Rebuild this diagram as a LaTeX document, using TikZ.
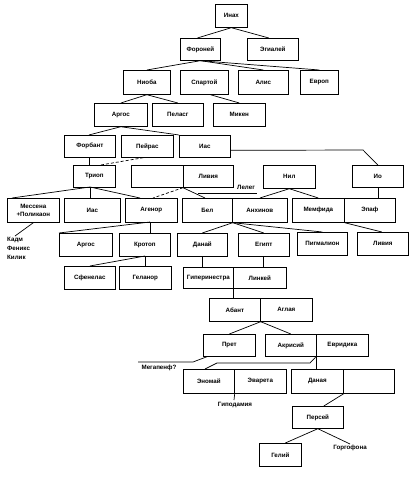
\documentclass[tikz,border=0pt]{standalone}
\usepackage{fontspec}
\setmainfont{Liberation Sans}
\usetikzlibrary{calc}
\newcommand\bx[6]{\node[boxst, minimum width={#4pt-#2pt}, minimum height={#5pt-#3pt}, anchor=north west] (#1) at (#2,#3) {#6};}
\begin{document}
\begin{tikzpicture}[x=1pt,y=-1pt,
  boxst/.style={draw, line width=0.7pt, inner sep=0pt, font=\fontsize{6.2}{8}\selectfont\bfseries, align=center},
  txt/.style={inner sep=0pt, font=\fontsize{6.2}{9}\selectfont\bfseries},
  ln/.style={line width=0.7pt},
  dln/.style={line width=0.7pt, dash pattern=on 3pt off 2pt}]
\fill[white] (0,0) rectangle (414,478);
\useasboundingbox (0,0) rectangle (414,478);
% row 1-3
\bx{inax}{215}{4}{247}{27}{Инах}
\bx{foron}{180}{38}{220}{60}{Фороней}
\bx{egial}{247}{38}{298}{60}{Эгиалей}
\bx{nioba}{123}{70}{170}{94}{Ниоба}
\bx{spart}{180}{70}{228}{94}{Спартой}
\bx{alis}{238}{70}{288}{94}{Алис}
\bx{evrop}{300}{70}{338}{94}{Европ}
% row 4
\bx{argosa}{94}{103}{147}{126}{Аргос}
\bx{pelasg}{152}{103}{203}{126}{Пеласг}
\bx{miken}{213}{103}{265}{126}{Микен}
% row 5
\bx{forb}{64}{135}{115}{157}{Форбант}
\bx{peir}{121}{135}{173}{157}{Пейрас}
\bx{iasa}{179}{135}{230}{157}{Иас}
% row 6
\bx{triop}{73}{165}{115}{187}{Триоп}
\bx{emptya}{131}{165}{183}{187}{}
\bx{liviaa}{183}{165}{233}{187}{Ливия}
\bx{nil}{263}{165}{315}{188}{Нил}
\bx{io}{352}{165}{403}{187}{Ио}
% row 7
\bx{mess}{7}{198}{59}{222}{Мессена\\+Поликаон}
\bx{iasb}{64}{198}{120}{222}{Иас}
\bx{agen}{125}{198}{177}{222}{Агенор}
\bx{bel}{182}{198}{232}{222}{Бел}
\bx{anx}{232}{198}{287}{222}{Анхинов}
\bx{memf}{292}{198}{344}{222}{Мемфида}
\bx{epaf}{344}{198}{395}{222}{Эпаф}
% row 8
\bx{argosb}{59}{233}{112}{256}{Аргос}
\bx{krot}{119}{233}{170}{256}{Кротоп}
\bx{danai}{177}{233}{227}{256}{Данай}
\bx{egipt}{238}{233}{289}{256}{Египт}
\bx{pigm}{297}{232}{347}{255}{Пигмалион}
\bx{liviab}{357}{232}{408}{255}{Ливия}
% row 9
\bx{sfen}{64}{266}{115}{289}{Сфенелас}
\bx{gelan}{119}{266}{171}{289}{Геланор}
\bx{giper}{183}{267}{233}{288}{Гиперинестра}
\bx{linkei}{233}{267}{286}{288}{Линкей}
% row 10-11
\bx{abant}{209}{298}{260}{321}{Абант}
\bx{aglaya}{260}{298}{312}{321}{Аглая}
\bx{pret}{203}{334}{255}{356}{Прет}
\bx{akris}{265}{334}{316}{356}{Акрисий}
\bx{evrid}{316}{334}{368}{356}{Евридика}
% row 12
\bx{enom}{183}{369}{234}{393}{Эномай}
\bx{evar}{234}{369}{286}{393}{Эварета}
\bx{danaya}{291}{369}{343}{393}{Даная}
\bx{emptyb}{343}{369}{394}{393}{}
\bx{persei}{292}{406}{343}{428}{Персей}
\bx{gelii}{259}{443}{301}{466}{Гелий}
% free texts
\node[txt] (leleg) at (246,187) {Лелег};
\node[txt, align=left, anchor=north west] (kadm) at (7,237.5) {Кадм\\Феникс\\Килик};
\node[txt] (megap) at (159,368) {Мегапенф?};
\node[txt] (gipod) at (235,405) {Гиподамия};
\node[txt] (gorg) at (350,448) {Горгофона};
% connectors
\draw[ln] (inax.south) -- ($(foron.north)+(-3,0)$);
\draw[ln] (inax.south) -- ($(egial.north)+(-4,0)$);
\draw[ln] (foron.south) -- (nioba.north);
\draw[ln] (foron.south) -- (alis.north);
\draw[ln] (foron.south) -- (evrop.north);
\draw[ln] ($(spart.south)+(6,0)$) -- (miken.north);
\draw[ln] (nioba.south) -- (argosa.north);
\draw[ln] (nioba.south) -- (pelasg.north);
\draw[ln] (argosa.south) -- ($(forb.north)+(-1,0)$);
\draw[ln] (argosa.south) -- (iasa.north west);
\draw[ln] ([yshift=-4pt]iasa.east) -- (363,150) -- (io.north);
\draw[ln] ($(forb.south)+(-1,0)$) -- ($(forb.south)+(-1,8)$);
\draw[dln] ($(peir.south)+(-4,0)$) -- ($(triop.north east)+(-15,0)$);
\coordinate (tj) at (90,187);
\draw[ln] (tj) -- (12,198);
\draw[ln] (tj) -- (90,198);
\draw[ln] (tj) -- (140,198);
\draw[dln] (liviaa.south west) -- (153,198);
\draw[ln] (liviaa.south west) -- (205,198);
\draw[ln] (198,193) -- (257,193);
\draw[ln] (nil.south) -- (anx.north);
\draw[ln] (nil.south) -- (memf.north);
\draw[ln] (io.south) -- (io.south |- epaf.north);
\draw[ln] (150,222) -- (150,233);
\draw[ln] (150,222) -- (argosb.north west);
\draw[ln] (mess.south) -- (15,236);
\draw[ln] (bel.south east) -- (danai.north);
\draw[ln] (bel.south east) -- (egipt.north);
\draw[ln] (bel.south east) -- (pigm.north);
\draw[ln] (memf.south east) -- ($(liviab.north)+(-1,0)$);
\draw[ln] (145,256) -- (145,266);
\draw[ln] (145,256) -- (sfen.north);
\draw[ln] (202,256) -- (202,267);
\draw[ln] (263,256) -- (263,267);
\draw[ln] (giper.south east) -- (abant.north east -| giper.south east);
\draw[ln] (abant.south east) -- (pret.north);
\draw[ln] (abant.south east) -- (akris.north);
\draw[ln] ($(pret.south west)+(4,0)$) -- (193,362) -- (138,362);
\draw[ln] (evrid.south west) -- (310,363) -- (217,363) -- (205,369);
\draw[ln] (evrid.south west) -- (evrid.south west |- danaya.north);
\draw[ln] (enom.south east) -- (234,400);
\draw[ln] (danaya.south east) -- ($(persei.north)+(6,0)$);
\draw[ln] (persei.south) -- ($(gelii.north)+(5,0)$);
\draw[ln] (persei.south) -- (350,444);
\end{tikzpicture}
\end{document}
